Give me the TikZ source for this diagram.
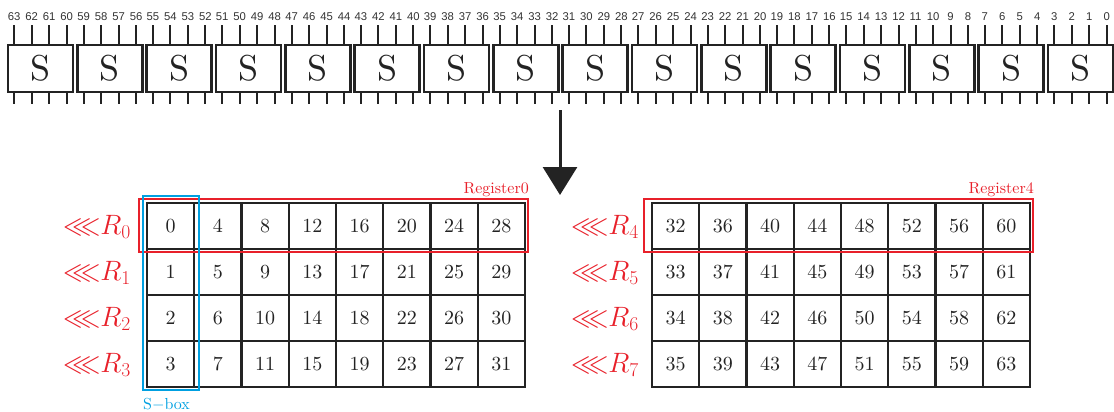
\RequirePackage{fix-cm}
\documentclass[tikz,border=0pt]{standalone}
\usepackage{amssymb}
\usepackage{fontspec}
\newfontfamily\labfont{Liberation Sans}
\newfontfamily\lmten{lmroman10-regular.otf}
\usetikzlibrary{arrows.meta}
\definecolor{regred}{RGB}{232,32,42}
\definecolor{sboxblue}{RGB}{0,160,225}
\definecolor{gridc}{RGB}{35,35,35}
\begin{document}
\begin{tikzpicture}[x=1pt,y=-1pt,
  sbox/.style={draw=gridc, line width=2.5pt, minimum width=65pt, minimum height=47pt, inner sep=0pt, text=gridc, font=\lmten\fontsize{36}{36}\selectfont},
  pin/.style={draw=gridc, line width=2pt},
  bitlab/.style={font=\labfont\fontsize{11.3}{12}\selectfont, text=black!80, inner sep=0pt},
  cell/.style={draw=gridc, line width=2.2pt, minimum width=47.25pt, minimum height=46pt, inner sep=0pt, text=gridc, font=\lmten\fontsize{20}{20}\selectfont},
  regbox/.style={draw=regred, line width=2pt},
  sboxrect/.style={draw=sboxblue, line width=2pt},
  reglab/.style={text=regred, inner sep=0pt, font=\lmten\fontsize{16}{16}\selectfont},
  rlab/.style={text=regred, inner sep=0pt, font=\fontsize{28}{28}\selectfont},
  bigarrow/.style={draw=gridc, line width=3pt, -{Triangle[width=34pt,length=28pt]}}
]
\useasboundingbox (0,0) rectangle (1114,412);
% S-boxes with pins and bit labels
\foreach \i in {0,...,15} {
  \pgfmathsetmacro\cx{40.5+69.33*\i}
  \node[sbox] (s\i) at (\cx,68.5) {S};
  \foreach \j in {0,1,2,3} {
    \pgfmathtruncatemacro\bit{63-4*\i-\j}
    \pgfmathsetmacro\dx{-26.25+17.5*\j}
    \draw[pin] ([xshift=\dx pt]s\i.north) -- ++(0,-19);
    \draw[pin] ([xshift=\dx pt]s\i.south) -- ++(0,11);
    \node[bitlab] (b\bit) at (\cx+\dx,16.5) {\bit};
  }
}
% arrow
\coordinate (arrtop) at (560,110);
\coordinate (arrtip) at (560,195);
\draw[bigarrow] (arrtop) -- (arrtip);
% grids
\foreach \c in {0,...,7} {
  \foreach \r in {0,...,3} {
    \pgfmathtruncatemacro\v{4*\c+\r}
    \pgfmathtruncatemacro\w{32+4*\c+\r}
    \node[cell] (L\v) at (170.625+47.25*\c, 226+46*\r) {\v};
    \node[cell] (G\w) at (675.625+47.25*\c, 226+46*\r) {\w};
  }
}
% register highlights
\draw[regbox] (139,199) rectangle (528,252);
\draw[regbox] (644,199) rectangle (1033,252);
\node[reglab, anchor=base east] (reg0) at (529,193) {Register0};
\node[reglab, anchor=base east] (reg4) at (1034,193) {Register4};
% S-box column highlight
\draw[sboxrect] (143,196) rectangle (199,390);
\node[reglab, text=sboxblue, anchor=base west] (sboxlab) at (143,409) {S$-$box};
% row labels
\foreach \r in {0,...,3} {
  \pgfmathtruncatemacro\q{\r+4}
  \node[rlab, anchor=east] (rl\r) at (131,227+46*\r) {${\lll}R_{\r}$};
  \node[rlab, anchor=east] (rr\q) at (639,227+46*\r) {${\lll}R_{\q}$};
}
\end{tikzpicture}
\end{document}
